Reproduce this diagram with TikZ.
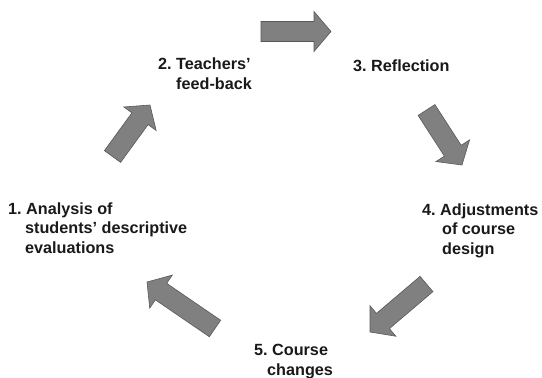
\documentclass[tikz,border=0pt]{standalone}
\usepackage{fontspec}
\setmainfont{Liberation Sans}
\frenchspacing
\usetikzlibrary{calc}
\tikzset{
  label/.style={font=\fontsize{16.2pt}{19.3pt}\selectfont\bfseries\frenchspacing, text=black!90, inner sep=0pt, align=left, anchor=base west},
  blockarrow/.style={fill=black!50, draw=black!65, line width=0.6pt, line join=miter}
}
\newcommand{\blockarr}[2]{%
  \path coordinate (H) at ($(#2)!17pt!(#1)$);
  \filldraw[blockarrow]
    ($(#1)!10pt!90:(#2)$) -- ($(H)!10pt!-90:(#1)$) -- ($(H)!20pt!-90:(#1)$) -- (#2)
    -- ($(H)!20pt!90:(#1)$) -- ($(H)!10pt!90:(#1)$) -- ($(#1)!10pt!-90:(#2)$) -- cycle;
}
\begin{document}
\begin{tikzpicture}[x=1pt,y=-1pt]
\useasboundingbox (0,0) rectangle (542,378);
% labels (anchor = baseline of last line)
\node[label] (n1) at (8,253) {1. Analysis of\\\hspace*{17pt}students’ descriptive\\\hspace*{17pt}evaluations};
\node[label] (n2) at (158,89) {2. Teachers’\\\hspace*{18pt}feed-back};
\node[label] (n3) at (353,71) {3. Reflection};
\node[label] (n4) at (422,254) {4. Adjustments\\\hspace*{20pt}of course\\\hspace*{20pt}design};
\node[label] (n5) at (254,375) {5. Course\\\hspace*{13pt}changes};
% arrows
\coordinate (a1) at (261,31.5);  \coordinate (b1) at (331,31.5);
\coordinate (a2) at (112.5,156.5); \coordinate (b2) at (150,105);
\coordinate (a3) at (426.5,110); \coordinate (b3) at (462,165);
\coordinate (a4) at (426.5,284); \coordinate (b4) at (370,332);
\coordinate (a5) at (215,328.5); \coordinate (b5) at (147,282);
\blockarr{a1}{b1}
\blockarr{a2}{b2}
\blockarr{a3}{b3}
\blockarr{a4}{b4}
\blockarr{a5}{b5}
\end{tikzpicture}
\end{document}
